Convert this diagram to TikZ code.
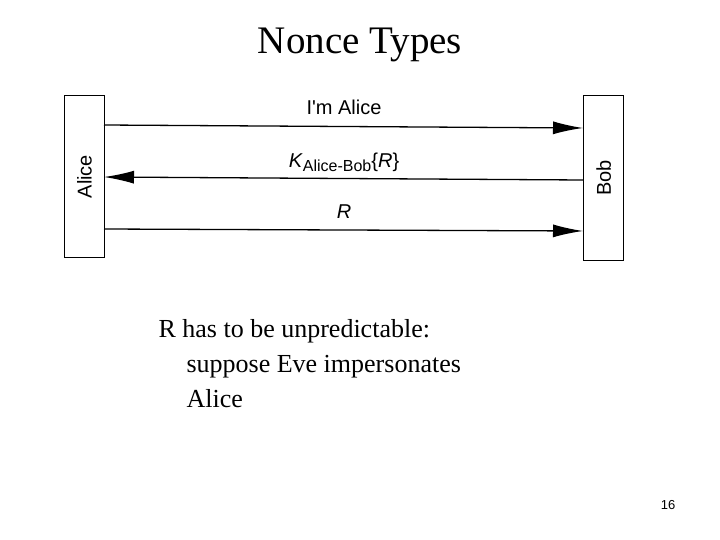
\documentclass[tikz,border=0pt]{standalone}
\usepackage{fontspec}
\setmainfont{Liberation Serif}
\newfontfamily\hv{Liberation Sans}
\usetikzlibrary{arrows.meta}
\begin{document}
\begin{tikzpicture}[x=1pt,y=-1pt,
  party/.style={draw,line width=1.2pt,minimum width=40pt,inner sep=0pt,anchor=north west},
  msg/.style={line width=1.3pt,-{Latex[length=30pt,width=13pt]}},
  lab/.style={font=\hv\fontsize{20}{22}\selectfont}]
\useasboundingbox (0,0) rectangle (720,540);
\node[font=\fontsize{39}{42}\selectfont] (title) at (360,45) {Nonce Types};
\node[party,minimum height=162pt] (alice) at (64,95) {};
\node[party,minimum height=165pt] (bob) at (583,95) {};
\node[lab,rotate=90] at (alice.center) {Alice};
\node[lab,rotate=90] at (bob.center) {Bob};
\coordinate (a1) at (104,125); \coordinate (b1) at (583,128);
\coordinate (a2) at (104,177); \coordinate (b2) at (583,180);
\coordinate (a3) at (104,229); \coordinate (b3) at (583,231);
\draw[msg] (a1) -- (b1);
\draw[msg] (b2) -- (a2);
\draw[msg] (a3) -- (b3);
\node[lab] (l1) at (344,107) {I'm Alice};
\node[lab] (l2) at (344,162) {\textit{K}\raisebox{-4pt}{\fontsize{16}{17}\selectfont Alice-Bob}\{\textit{R}\}};
\node[lab] (l3) at (344,212) {\textit{R}};
\node[font=\fontsize{26}{35}\selectfont,anchor=north west,align=left] (body) at (155,316)
 {R has to be unpredictable:\\\hspace*{28pt}suppose Eve impersonates\\\hspace*{28pt}Alice};
\node[font=\hv\fontsize{13}{14}\selectfont] (num) at (668,505) {16};
\end{tikzpicture}
\end{document}
